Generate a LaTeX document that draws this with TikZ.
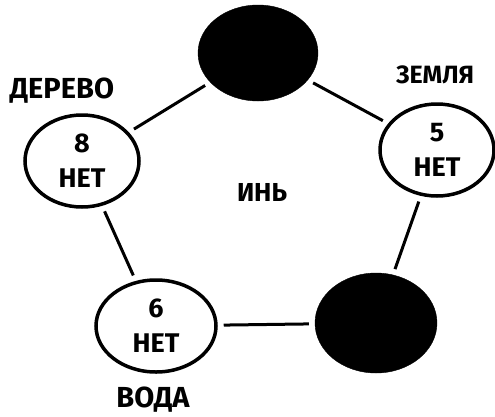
\documentclass[tikz,border=0pt]{standalone}
\usepackage{fontspec}
\setmainfont{Fira Sans}
\usepackage{tikz}
\usetikzlibrary{shapes.geometric, positioning}
\tikzstyle{element} = [ellipse, draw=black, line width=3.5pt, minimum width=114pt, minimum height=92pt, inner sep=0pt, align=center, font=\bfseries\fontsize{27}{35}\selectfont]
\tikzstyle{yin} = [ellipse, draw=black, fill=black, minimum width=120pt, minimum height=96pt, inner sep=0pt]
\tikzstyle{tag} = [font=\bfseries\fontsize{29}{32}\selectfont]
\tikzstyle{link} = [line width=3pt, shorten <=6pt, shorten >=6pt]

\begin{document}
\begin{tikzpicture}[x=1pt, y=-1pt]
    \useasboundingbox (0,0) rectangle (495,416);
    \node (ogon) [yin] at (258,53) {};
    \node (zemlya) [element] at (437,150) {5\\НЕТ};
    \node (metall) [yin, minimum width=122pt, minimum height=100pt] at (376,323) {};
    \node (voda) [element, minimum width=120pt] at (156,326) {6\\НЕТ};
    \node (derevo) [element] at (82,161) {8\\НЕТ};

    \node (lderevo) [tag] at (62,91) {ДЕРЕВО};
    \node (lzemlya) [tag, font=\bfseries\fontsize{25}{28}\selectfont] at (435,75) {ЗЕМЛЯ};
    \node (lvoda) [tag] at (153,400) {ВОДА};
    \node (lyin) [tag, font=\bfseries\fontsize{26}{28}\selectfont] at (262,192) {ИНЬ};

    \foreach \i/\j in {derevo/ogon, ogon/zemlya, zemlya/metall, metall/voda, voda/derevo} {
        \draw [link] (\i) -- (\j);
    }
\end{tikzpicture}
\end{document}
